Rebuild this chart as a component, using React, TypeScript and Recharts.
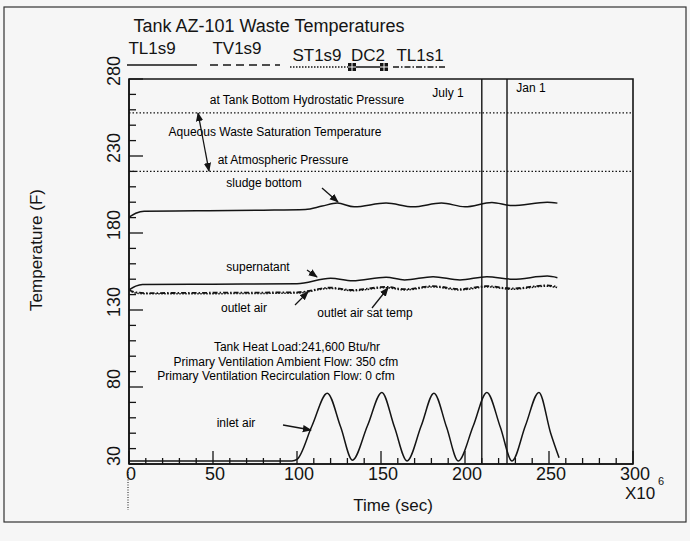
import { Line, LineChart, ReferenceArea, ReferenceLine, XAxis, YAxis } from "recharts";

// time in 1e6 sec, temperature in F
const sludgeBottom = [
  { t: 0, f: 190.3 }, { t: 4, f: 192.8 }, { t: 9, f: 194.2 }, { t: 40, f: 194.4 },
  { t: 80, f: 194.8 }, { t: 105, f: 195.3 }, { t: 115, f: 197.5 }, { t: 124, f: 199.4 },
  { t: 134, f: 197 }, { t: 153, f: 199.5 }, { t: 169, f: 197 }, { t: 186, f: 199.5 },
  { t: 200, f: 197 }, { t: 216, f: 199.8 }, { t: 228, f: 197.8 }, { t: 249, f: 200 },
  { t: 255, f: 199.4 },
];

const supernatant = [
  { t: 0, f: 143 }, { t: 4, f: 145.5 }, { t: 8, f: 146.6 }, { t: 50, f: 146.8 },
  { t: 100, f: 147 }, { t: 120, f: 150.6 }, { t: 133, f: 149 }, { t: 153, f: 151.3 },
  { t: 164, f: 149.5 }, { t: 181, f: 151.6 }, { t: 197, f: 149.5 }, { t: 213, f: 151.6 },
  { t: 228.6, f: 150 }, { t: 249, f: 152 }, { t: 255, f: 151 },
];

const outletAir = [
  { t: 0, f: 143 }, { t: 4, f: 141.5 }, { t: 10, f: 141 }, { t: 50, f: 141.2 },
  { t: 100, f: 141.5 }, { t: 120, f: 144.5 }, { t: 133, f: 143 }, { t: 153, f: 145 },
  { t: 164, f: 143.5 }, { t: 181, f: 145.5 }, { t: 197, f: 143.5 }, { t: 213, f: 145.5 },
  { t: 228, f: 144 }, { t: 249, f: 146 }, { t: 255, f: 145 },
];

const outletSatTemp = [
  { t: 0, f: 143 }, { t: 4, f: 141 }, { t: 10, f: 140.5 }, { t: 50, f: 140.6 },
  { t: 100, f: 141 }, { t: 120, f: 144 }, { t: 133, f: 142.5 }, { t: 153, f: 144.5 },
  { t: 164, f: 143 }, { t: 181, f: 145 }, { t: 197, f: 143 }, { t: 213, f: 145 },
  { t: 228, f: 143.5 }, { t: 249, f: 145.5 }, { t: 255, f: 144.5 },
];

const inletAir = [
  { t: 0, f: 32 }, { t: 97, f: 32 }, { t: 100, f: 33 }, { t: 109, f: 55 },
  { t: 118, f: 76 }, { t: 126, f: 54 }, { t: 133, f: 32.5 }, { t: 142, f: 55 },
  { t: 150.5, f: 76.5 }, { t: 158, f: 54 }, { t: 165.5, f: 32 }, { t: 174, f: 55 },
  { t: 181.5, f: 76 }, { t: 189, f: 54 }, { t: 196, f: 32 }, { t: 205, f: 55 },
  { t: 213, f: 76.5 }, { t: 221, f: 54 }, { t: 228, f: 32 }, { t: 236, f: 55 },
  { t: 244, f: 76.5 }, { t: 251, f: 50 }, { t: 256, f: 34 },
];

const saturationLines = [258, 220]; // hydrostatic, atmospheric
const dateLines = [210, 225]; // July 1, Jan 1

const tempTicks = [30, 40, 50, 60, 70, 80, 90, 100, 110, 120, 130, 140, 150, 160, 170, 180, 190, 200, 210, 220, 230, 240, 250, 260, 270, 280];
const timeTicks = [0, 10, 20, 30, 40, 50, 60, 70, 80, 90, 100, 110, 120, 130, 140, 150, 160, 170, 180, 190, 200, 210, 220, 230, 240, 250, 260, 270, 280, 290, 300];

const INK = "#141414";
const FONT = "'Liberation Sans', Arial, Helvetica, sans-serif";

function TempTick({ x, y, payload }: any) {
  const v = payload.value;
  const major = (v - 30) % 50 === 0;
  return (
    <g>
      <line x1={x} x2={x + (major ? 14 : 7)} y1={y} y2={y} stroke={INK} strokeWidth={1.3} />
      {major ? (
        <text
          transform={`translate(${x - 15},${y - 8}) rotate(-90)`}
          textAnchor="middle"
          dominantBaseline="central"
          fontFamily={FONT}
          fontSize={18}
          fill={INK}
        >
          {v}
        </text>
      ) : null}
    </g>
  );
}

function TimeTick({ x, y, payload }: any) {
  const v = payload.value;
  const major = v % 50 === 0;
  return (
    <g>
      <line x1={x} x2={x} y1={y} y2={y - (major ? 13 : 6)} stroke={INK} strokeWidth={1.3} />
      {major ? (
        <text x={x + 2} y={y + 10} textAnchor="middle" dominantBaseline="central" fontFamily={FONT} fontSize={18} fill={INK}>
          {v}
        </text>
      ) : null}
    </g>
  );
}

const notes = [
  { text: "at Tank Bottom Hydrostatic Pressure", x: 307, y: 100 },
  { text: "Aqueous Waste Saturation Temperature", x: 275, y: 132 },
  { text: "at Atmospheric Pressure", x: 283, y: 160 },
  { text: "sludge bottom", x: 264, y: 183 },
  { text: "supernatant", x: 258, y: 267 },
  { text: "outlet air", x: 244, y: 308 },
  { text: "outlet air sat temp", x: 365, y: 313 },
  { text: "Tank Heat Load:241,600 Btu/hr", x: 297, y: 347 },
  { text: "Primary Ventilation Ambient Flow: 350 cfm", x: 286, y: 362 },
  { text: "Primary Ventilation Recirculation Flow: 0 cfm", x: 276, y: 376 },
  { text: "inlet air", x: 236, y: 423 },
  { text: "July 1", x: 448, y: 93 },
  { text: "Jan 1", x: 531, y: 88 },
];

const arrows = [
  [322, 188, 338, 202],
  [307, 270, 317, 277],
  [295, 305, 308, 292],
  [372, 308, 388, 288],
  [283, 425, 311, 430],
];

export default function App() {
  return (
    <div style={{ position: "absolute", left: 0, top: 0, width: 690, height: 541, background: "#f6f6f6" }}>
      <LineChart width={690} height={541} margin={{ top: 79, right: 57, bottom: 76, left: 128 }}>
        <XAxis
          dataKey="t"
          type="number"
          domain={[0, 300]}
          ticks={timeTicks}
          interval={0}
          height={1}
          tickSize={0}
          tickMargin={0}
          tickLine={false}
          tick={(p: any) => <TimeTick {...p} />}
          axisLine={{ stroke: INK, strokeWidth: 1.5 }}
          allowDataOverflow
        />
        <YAxis
          type="number"
          domain={[30, 280]}
          ticks={tempTicks}
          interval={0}
          width={1}
          tickSize={0}
          tickMargin={0}
          tickLine={false}
          tick={(p: any) => <TempTick {...p} />}
          axisLine={{ stroke: INK, strokeWidth: 1.5 }}
          allowDataOverflow
        />
        {saturationLines.map((v) => (
          <ReferenceLine key={v} y={v} stroke={INK} strokeWidth={1.4} strokeDasharray="1.5 2" />
        ))}
        {dateLines.map((v) => (
          <ReferenceLine key={v} x={v} stroke={INK} strokeWidth={1.4} />
        ))}
        <Line data={sludgeBottom} dataKey="f" type="monotone" dot={false} stroke={INK} strokeWidth={1.5} isAnimationActive={false} />
        <Line data={supernatant} dataKey="f" type="monotone" dot={false} stroke={INK} strokeWidth={1.5} isAnimationActive={false} />
        <Line data={outletSatTemp} dataKey="f" type="monotone" dot={false} stroke={INK} strokeWidth={1.5} strokeDasharray="1.5 1.5" isAnimationActive={false} />
        <Line data={outletAir} dataKey="f" type="monotone" dot={false} stroke={INK} strokeWidth={1.8} strokeDasharray="5 2 1.5 2" isAnimationActive={false} />
        <Line data={inletAir} dataKey="f" type="monotone" dot={false} stroke={INK} strokeWidth={1.5} isAnimationActive={false} />
        <ReferenceArea x1={0} x2={300} y1={30} y2={280} fill="none" stroke={INK} strokeWidth={1.6} />
      </LineChart>

      <svg width={690} height={541} style={{ position: "absolute", left: 0, top: 0, pointerEvents: "none" }}>
        <defs>
          <marker id="head" viewBox="0 0 10 10" refX="9" refY="5" markerWidth="7" markerHeight="7" orient="auto-start-reverse">
            <path d="M0,1 L10,5 L0,9 z" fill={INK} />
          </marker>
        </defs>
        <rect x={4} y={7} width={682} height={515} fill="none" stroke="#333" strokeWidth={1.2} />

        <text x={269} y={26} textAnchor="middle" dominantBaseline="central" fontFamily={FONT} fontSize={18} fill={INK}>
          Tank AZ-101 Waste Temperatures
        </text>

        {/* series key along the top */}
        <g fontFamily={FONT} fontSize={17} fill={INK}>
          <text x={152} y={48} textAnchor="middle" dominantBaseline="central">TL1s9</text>
          <text x={237} y={48} textAnchor="middle" dominantBaseline="central">TV1s9</text>
          <text x={317} y={55} textAnchor="middle" dominantBaseline="central">ST1s9</text>
          <text x={368} y={55} textAnchor="middle" dominantBaseline="central">DC2</text>
          <text x={420} y={55} textAnchor="middle" dominantBaseline="central">TL1s1</text>
        </g>
        <g stroke={INK} strokeWidth={1.5}>
          <line x1={127} x2={197} y1={65} y2={65} />
          <line x1={210} x2={280} y1={65} y2={65} strokeDasharray="8 5" />
          <line x1={290} x2={348} y1={67} y2={67} strokeDasharray="1.5 1.5" />
          <line x1={352} x2={384} y1={67} y2={67} />
          <line x1={393} x2={447} y1={67} y2={67} strokeDasharray="6 2 1.5 2" />
        </g>
        {[352, 384].map((cx) => (
          <g key={cx}>
            <rect x={cx - 4} y={63} width={8} height={8} fill={INK} />
            <line x1={cx} x2={cx} y1={63} y2={71} stroke="#f6f6f6" strokeWidth={1} />
            <line x1={cx - 4} x2={cx + 4} y1={67} y2={67} stroke="#f6f6f6" strokeWidth={1} />
          </g>
        ))}

        <g fontFamily={FONT} fontSize={12} fill="#000">
          {notes.map((n) => (
            <text key={n.text} x={n.x} y={n.y} textAnchor="middle" dominantBaseline="central">
              {n.text}
            </text>
          ))}
        </g>

        <g stroke={INK} strokeWidth={1.3}>
          {arrows.map(([x1, y1, x2, y2], i) => (
            <line key={i} x1={x1} y1={y1} x2={x2} y2={y2} markerEnd="url(#head)" />
          ))}
          <line x1={198} y1={113} x2={209} y2={171} markerStart="url(#head)" markerEnd="url(#head)" />
          <line x1={128} y1={472} x2={128} y2={510} strokeDasharray="1 1.5" strokeWidth={1} />
        </g>

        <text
          transform="translate(36,250) rotate(-90)"
          textAnchor="middle"
          dominantBaseline="central"
          fontFamily={FONT}
          fontSize={17}
          fill={INK}
        >
          Temperature (F)
        </text>
        <text x={393} y={505} textAnchor="middle" dominantBaseline="central" fontFamily={FONT} fontSize={17} fill={INK}>
          Time (sec)
        </text>
        <text x={640} y={493} textAnchor="middle" dominantBaseline="central" fontFamily={FONT} fontSize={17} fill={INK}>
          X10
        </text>
        <text x={661} y={481} textAnchor="middle" dominantBaseline="central" fontFamily={FONT} fontSize={11} fill={INK}>
          6
        </text>
      </svg>
    </div>
  );
}
